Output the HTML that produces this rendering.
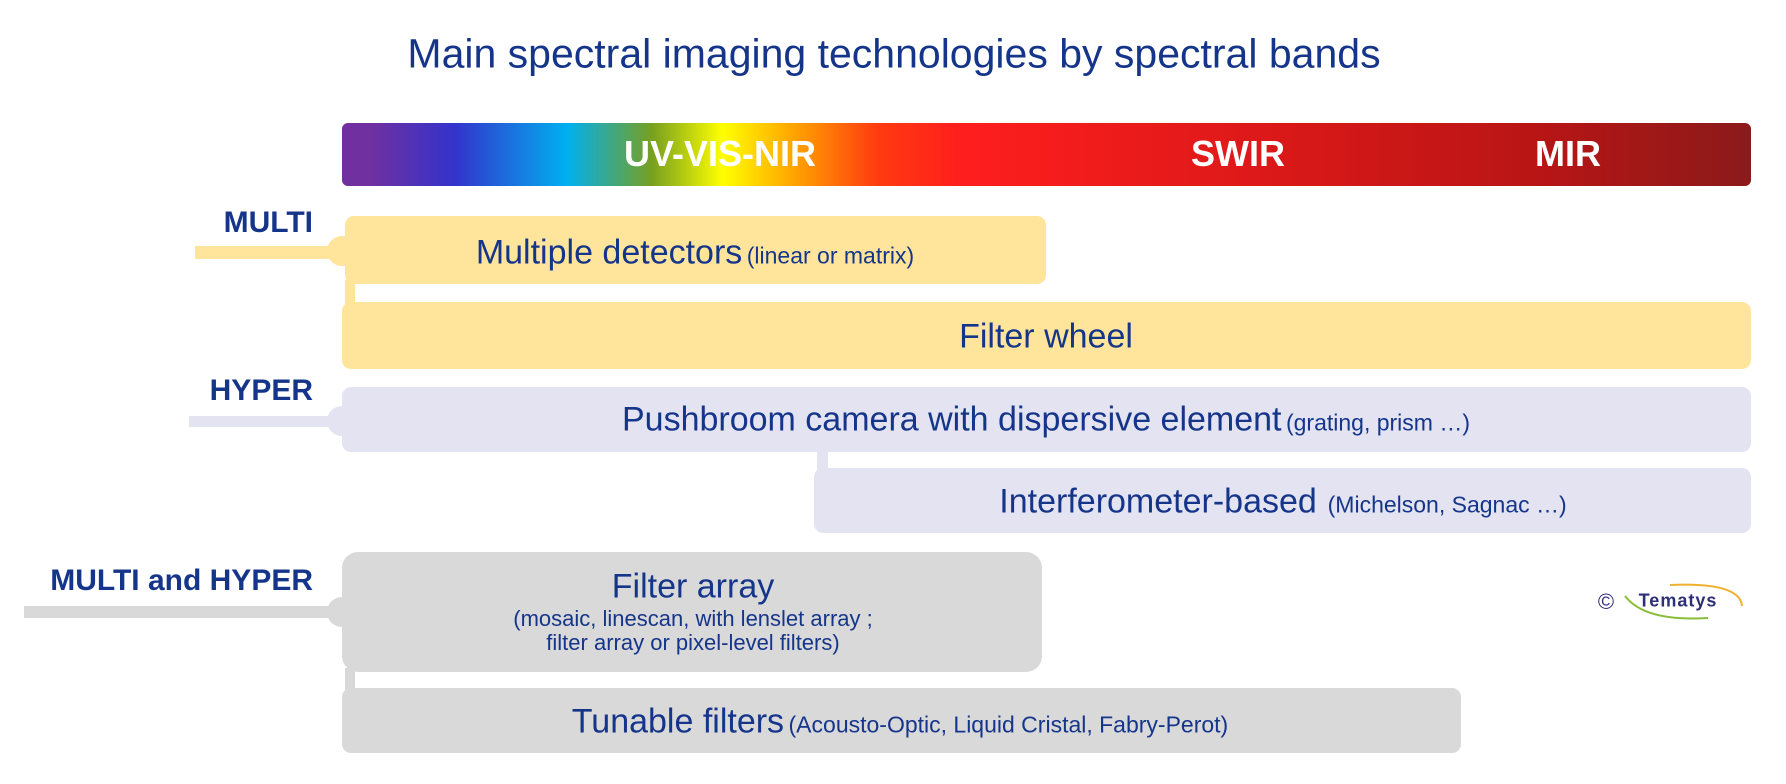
<!DOCTYPE html>
<html><head><meta charset="utf-8"><style>
body{margin:0;width:1786px;height:784px;background:#fff;position:relative;overflow:hidden;font-family:"Liberation Sans",sans-serif;color:#15358a}
div{position:absolute;box-sizing:border-box}
.t{white-space:nowrap;transform:translate(-50%,-50%)}
.lab{font-weight:bold;font-size:30px;text-align:right;right:1473px;transform:translateY(-50%);white-space:nowrap}
.y{background:#fee59b}.l{background:#e3e3f1}.g{background:#d9d9d9}
.box{border-radius:9px}
.big{font-size:34px}.sm{font-size:23px}
.dot{width:30px;height:30px;border-radius:50%}
</style></head><body>
<div class="t" style="left:894px;top:54px;font-size:41px">Main spectral imaging technologies by spectral bands</div>
<div style="left:342px;top:123px;width:1409px;height:63px;border-radius:6px;background:linear-gradient(90deg,#7030a0 0%,#7030a0 2%,#3333cc 8%,#00b0f0 16%,#77a020 22%,#ffff00 27%,#ffa500 32%,#ff3a10 38%,#ff1e1e 44%,#d81818 68%,#b81515 85%,#8b1a1a 100%)"></div>
<div class="t" style="left:720px;top:154px;color:#fff;font-weight:bold;font-size:36px">UV-VIS-NIR</div>
<div class="t" style="left:1238px;top:154px;color:#fff;font-weight:bold;font-size:36px">SWIR</div>
<div class="t" style="left:1568px;top:154px;color:#fff;font-weight:bold;font-size:36px">MIR</div>

<div class="lab" style="top:223px">MULTI</div>
<div class="y" style="left:195px;top:246px;width:150px;height:13px"></div>
<div class="y dot" style="left:327px;top:236px"></div>
<div class="y box" style="left:345px;top:216px;width:701px;height:68px"></div>
<div class="y" style="left:345px;top:280px;width:10px;height:26px"></div>
<div class="y box" style="left:342px;top:302px;width:1409px;height:67px"></div>
<div class="t" style="left:695px;top:253px"><span class="big">Multiple detectors</span> <span class="sm">(linear or matrix)</span></div>
<div class="t big" style="left:1046px;top:337px">Filter wheel</div>

<div class="lab" style="top:391px">HYPER</div>
<div class="l" style="left:189px;top:416px;width:155px;height:11px"></div>
<div class="l dot" style="left:327px;top:406px"></div>
<div class="l box" style="left:342px;top:387px;width:1409px;height:65px"></div>
<div class="l" style="left:817px;top:448px;width:11px;height:24px"></div>
<div class="l box" style="left:814px;top:468px;width:937px;height:65px"></div>
<div class="t" style="left:1046px;top:420px"><span class="big">Pushbroom camera with dispersive element</span> <span class="sm">(grating, prism …)</span></div>
<div class="t" style="left:1283px;top:502px"><span class="big">Interferometer-based</span> <span class="sm">&nbsp;(Michelson, Sagnac …)</span></div>

<div class="lab" style="top:581px">MULTI and HYPER</div>
<div class="g" style="left:24px;top:606px;width:320px;height:12px"></div>
<div class="g dot" style="left:327px;top:597px"></div>
<div class="g" style="left:342px;top:552px;width:700px;height:120px;border-radius:16px"></div>
<div class="g" style="left:345px;top:668px;width:10px;height:24px"></div>
<div class="g box" style="left:342px;top:688px;width:1119px;height:65px"></div>
<div class="t big" style="left:693px;top:587px">Filter array</div>
<div class="t" style="left:693px;top:631px;font-size:22px;text-align:center;line-height:24px">(mosaic, linescan, with lenslet array ;<br>filter array or pixel-level filters)</div>
<div class="t" style="left:900px;top:722px"><span class="big">Tunable filters</span> <span class="sm">(Acousto-Optic, Liquid Cristal, Fabry-Perot)</span></div>

<div class="t" style="left:1606px;top:602px;font-size:22px;color:#2d2f78">©</div>
<svg style="position:absolute;left:1620px;top:580px" width="130" height="45"><path d="M5 16 Q25 42 88 38" stroke="#8cbd3a" stroke-width="2" fill="none"/><path d="M50 5 Q120 2 122 26" stroke="#f0b030" stroke-width="2" fill="none"/></svg>
<div class="t" style="left:1678px;top:601px;font-size:18px;font-weight:bold;color:#2d2f78;letter-spacing:1px">Tematys</div>
</body></html>
